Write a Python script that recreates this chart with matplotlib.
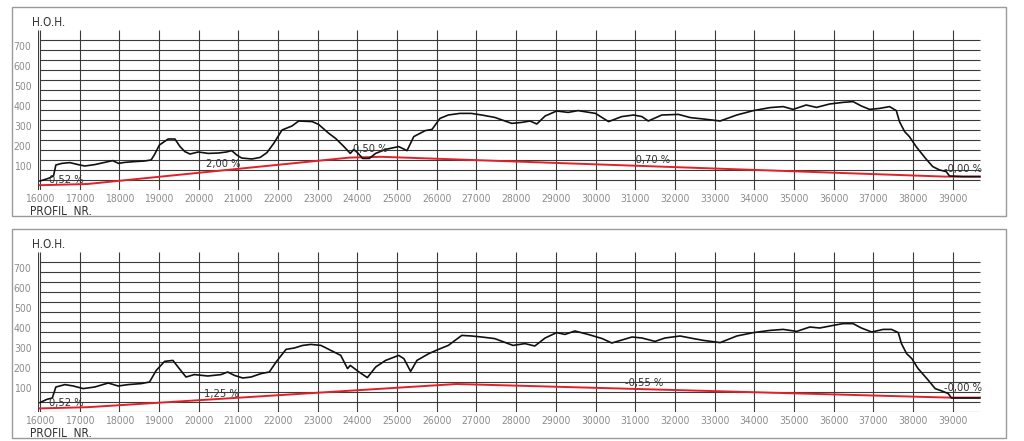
import matplotlib
matplotlib.use('Agg')
import matplotlib.pyplot as plt
from matplotlib.patches import Rectangle
from matplotlib.transforms import ScaledTranslation

# terrain profile (profil nr, H.O.H.) - upper variant
top_x = [16000, 16210, 16340, 16400, 16550, 16750, 16960, 17130, 17380,
         17630, 17830, 17980, 18130, 18380, 18630, 18800, 18880, 19010,
         19230, 19400, 19530, 19650, 19780, 19990, 20240, 20500, 20700,
         20830, 20960, 21080, 21340, 21550, 21720, 21890, 22100, 22350,
         22520, 22860, 23020, 23280, 23450, 23660, 23820, 23910, 24000,
         24130, 24300, 24460, 24710, 25040, 25250, 25420, 25710, 25880,
         26080, 26290, 26580, 26870, 27130, 27460, 27890, 28140, 28350,
         28520, 28730, 29020, 29310, 29560, 30000, 30160, 30330, 30660,
         30960, 31170, 31330, 31670, 32090, 32390, 32720, 33140, 33560,
         33980, 34400, 34730, 34980, 35310, 35570, 35900, 36230, 36490,
         36700, 36910, 37160, 37410, 37580, 37660, 37790, 37910, 38080,
         38330, 38500, 38670, 38840, 38920, 39260, 39680]
top_h = [45, 58, 70, 125, 133, 137, 127, 120, 127,
         138, 147, 133, 138, 142, 145, 150, 175, 225,
         255, 255, 217, 192, 180, 190, 183, 185, 190,
         197, 175, 160, 155, 163, 187, 233, 300, 320,
         345, 342, 328, 283, 258, 217, 183, 203, 187,
         158, 158, 183, 203, 217, 197, 267, 297, 303,
         358, 375, 383, 383, 375, 363, 333, 338, 345,
         330, 370, 395, 388, 397, 383, 363, 342, 367,
         375, 367, 345, 375, 378, 362, 355, 345, 375,
         397, 412, 417, 403, 425, 413, 430, 438, 442,
         420, 403, 408, 417, 397, 342, 292, 267, 217,
         155, 117, 100, 92, 70, 67, 67]

# terrain profile - lower variant
bot_x = [16000, 16170, 16310, 16400, 16630, 16840, 17090, 17380, 17720,
         17970, 18220, 18550, 18760, 18930, 19140, 19350, 19510, 19680,
         19890, 20230, 20560, 20730, 20900, 21110, 21320, 21570, 21780,
         21950, 22200, 22410, 22620, 22830, 23080, 23330, 23580, 23750,
         23820, 24040, 24250, 24460, 24710, 25040, 25170, 25340, 25500,
         25800, 26040, 26290, 26460, 26630, 26880, 27130, 27460, 27920,
         28220, 28470, 28730, 29020, 29230, 29480, 29830, 30170, 30410,
         30920, 31170, 31500, 31750, 32130, 32470, 32720, 33140, 33560,
         33980, 34400, 34730, 35070, 35400, 35650, 35990, 36240, 36490,
         36700, 36960, 37250, 37460, 37630, 37710, 37840, 37970, 38130,
         38390, 38560, 38730, 38890, 38970, 39270, 39680]
bot_h = [47, 63, 70, 125, 137, 130, 117, 125, 145,
         130, 137, 142, 150, 208, 253, 258, 217, 175,
         187, 180, 187, 200, 183, 170, 175, 192, 200,
         250, 313, 320, 333, 338, 333, 308, 283, 217,
         233, 200, 172, 225, 258, 283, 267, 203, 258,
         292, 313, 333, 358, 383, 380, 375, 367, 333,
         342, 330, 370, 397, 388, 405, 387, 367, 345,
         375, 370, 353, 370, 380, 367, 358, 347, 380,
         397, 408, 413, 403, 425, 420, 433, 442, 442,
         420, 400, 413, 413, 397, 342, 292, 267, 217,
         158, 117, 105, 92, 70, 70, 70]

# design grade lines
top_grade_x = [16000, 17200, 23800, 24600, 38800, 39700]
top_grade_h = [24, 30, 162, 166, 67, 67]
bot_grade_x = [16000, 17200, 26500, 38900, 39700]
bot_grade_h = [18, 24, 140, 72, 72]

# slope labels (text, profil nr, height)
top_slopes = [('0,52 %', 16670, 52), ('2,00 %', 20610, 128),
              ('0,50 %', 24330, 203), ('-0,70 %', 31390, 148),
              ('-0,00 %', 39260, 104)]
bot_slopes = [('0,52 %', 16670, 44), ('1,25 %', 20560, 92),
              ('-0,55 %', 31220, 144), ('-0,00 %', 39268, 121)]

x_ticks = list(range(16000, 40000, 1000))
y_labels = list(range(100, 800, 100))
h_grid = list(range(0, 800, 50))

W, H = 1024, 441
fig = plt.figure(figsize=(W / 100, H / 100), dpi=100)
font = dict(family='DejaVu Sans', fontstretch='condensed')
grid_col = '#3a3a3a'
lbl_col = '#8c8c8c'
txt_col = '#333333'


def draw_panel(ax, px, ph, gx, gh, slopes):
    ax.set_xlim(15960, 39720)
    ax.set_ylim(0, 800)
    for s in ax.spines.values():
        s.set_visible(False)
    ax.hlines(h_grid, 16000, 39700, color=grid_col, lw=0.8, zorder=1)
    ax.vlines(x_ticks, 0, 800, color=grid_col, lw=0.8, zorder=1)
    ax.vlines(15960, 0, 800, color=grid_col, lw=0.8, zorder=1)
    ax.plot(gx, gh, color='#e3202a', lw=1.4, zorder=2)
    ax.plot(px, ph, color='#111111', lw=1.2, zorder=3)
    for t, x, y in slopes:
        ax.text(x, y, t, ha='center', va='center', fontsize=8,
                color=txt_col, zorder=4, **font)
    ax.set_xticks(x_ticks)
    ax.set_xticklabels([str(v) for v in x_ticks], fontsize=7.5,
                       color=lbl_col, **font)
    ax.set_yticks(y_labels)
    ax.set_yticklabels([str(v) for v in y_labels], fontsize=7.5,
                       color=lbl_col, **font)
    ax.tick_params(length=0, pad=3)
    off = ScaledTranslation(-2 / 72, 3 / 72, fig.dpi_scale_trans)
    for lab in ax.get_yticklabels():
        lab.set_transform(lab.get_transform() + off)
    ax.text(15800, 840, 'H.O.H.', ha='left', va='center', fontsize=8.5,
            color=txt_col, clip_on=False, **font)
    ax.text(15750, -108, 'PROFIL  NR.', ha='left', va='center',
            fontsize=8.5, color=txt_col, clip_on=False, **font)


left = 38.4 / W
width = (981.2 - 38.4) / W
hgt = 160 / H
ax1 = fig.add_axes([left, 1 - 190 / H, width, hgt])
ax2 = fig.add_axes([left, 1 - 412 / H, width, hgt])
draw_panel(ax1, top_x, top_h, top_grade_x, top_grade_h, top_slopes)
draw_panel(ax2, bot_x, bot_h, bot_grade_x, bot_grade_h, bot_slopes)

# outer frames of both drawings
for y0, y1 in [(7, 216), (229, 438)]:
    fig.patches.append(Rectangle((12 / W, 1 - y1 / H), (1006 - 12) / W,
                                 (y1 - y0) / H, transform=fig.transFigure,
                                 fill=False, ec='#9a9a9a', lw=1.0))

fig.savefig('out.png', dpi=100, facecolor='white')
